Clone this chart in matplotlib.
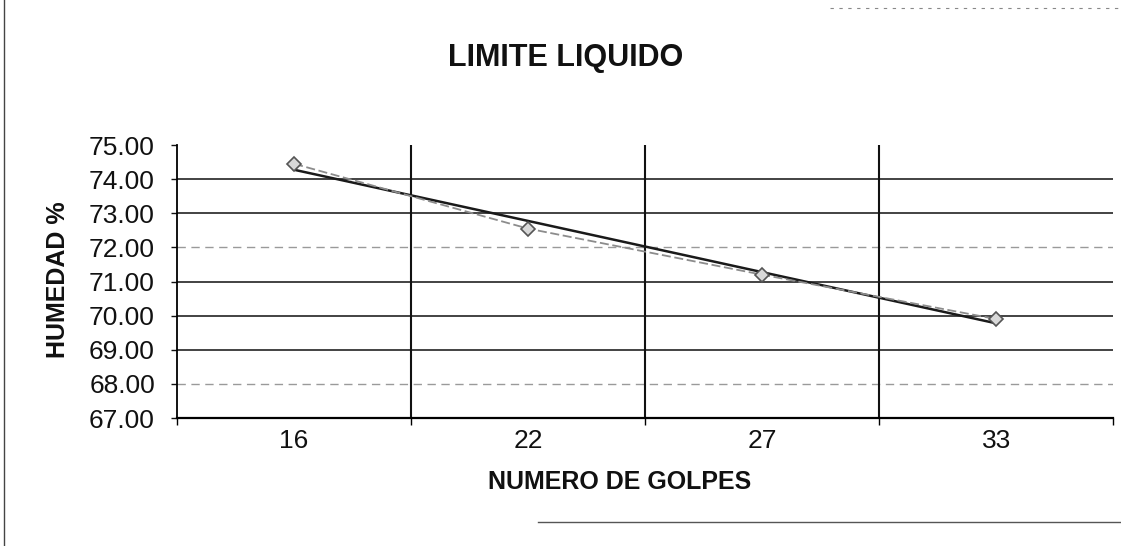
import numpy as np
import matplotlib
matplotlib.use("Agg")
import matplotlib.pyplot as plt
from matplotlib.lines import Line2D

plt.rcParams['font.family'] = ['Liberation Sans', 'DejaVu Sans']

# Ensayo de limite liquido (Casagrande)
golpes = ['16', '22', '27', '33']
humedad = [74.45, 72.55, 71.20, 69.90]
y_ticks = [67, 68, 69, 70, 71, 72, 73, 74, 75]

x = np.arange(1, len(golpes) + 1)

fig = plt.figure(figsize=(11.21, 5.46), dpi=100)
ax = fig.add_axes([0.158, 0.2344, 0.835, 0.5])

# horizontal grid: some lines print lighter
for v in y_ticks[1:-1]:
    if v in (68, 72):
        ax.axhline(v, color='#9a9a9a', lw=1.0, ls=(0, (6, 4)), zorder=1)
    else:
        ax.axhline(v, color='#222222', lw=1.2, zorder=1)

# vertical grid at category boundaries
for b in x[:-1] + 0.5:
    ax.axvline(b, color='#111111', lw=1.5, zorder=1)

# linear trend
coef = np.polyfit(x, humedad, 1)
ax.plot(x, np.polyval(coef, x), color='#1a1a1a', lw=1.8, zorder=3)

# measured points
ax.plot(x, humedad, color='#8c8c8c', lw=1.3, ls=(0, (5, 2)),
        marker='D', ms=7, mfc='#d8d8d8', mec='#555555', mew=1.2, zorder=4)

ax.set_xlim(0.5, len(golpes) + 0.5)
ax.set_ylim(y_ticks[0], y_ticks[-1])
ax.set_yticks(y_ticks)
ax.set_yticklabels([f'{v:.2f}' for v in y_ticks])
ax.set_xticks(np.arange(0.5, len(golpes) + 1, 1.0))
ax.set_xticklabels([])
ax.set_xticks(x, minor=True)
ax.set_xticklabels(golpes, minor=True)

ax.tick_params(axis='y', length=4, width=1, pad=12, labelsize=19, colors='#111111')
ax.tick_params(axis='x', which='major', length=5, width=1, direction='out')
ax.tick_params(axis='x', which='minor', length=0, pad=8, labelsize=19, colors='#111111')

for s in ['top', 'right']:
    ax.spines[s].set_visible(False)
ax.spines['left'].set_linewidth(1.3)
ax.spines['bottom'].set_linewidth(1.6)

fig.text(0.505, 0.893, 'LIMITE LIQUIDO', ha='center', va='center',
         fontsize=22, fontweight='bold', color='#111111')
fig.text(0.553, 0.118, 'NUMERO DE GOLPES', ha='center', va='center',
         fontsize=18, fontweight='bold', color='#111111')
fig.text(0.052, 0.487, 'HUMEDAD %', ha='center', va='center', rotation=90,
         fontsize=18, fontweight='bold', color='#111111')

# chart area border
fig.add_artist(Line2D([0.004, 0.004], [0.0, 1.0], color='#444444', lw=1.0))
fig.add_artist(Line2D([0.48, 1.0], [0.044, 0.044], color='#555555', lw=1.0))
fig.add_artist(Line2D([0.74, 1.0], [0.985, 0.985], color='#888888', lw=0.8,
                      ls=(0, (3, 5))))

fig.savefig('out.png', dpi=100, facecolor='white')
